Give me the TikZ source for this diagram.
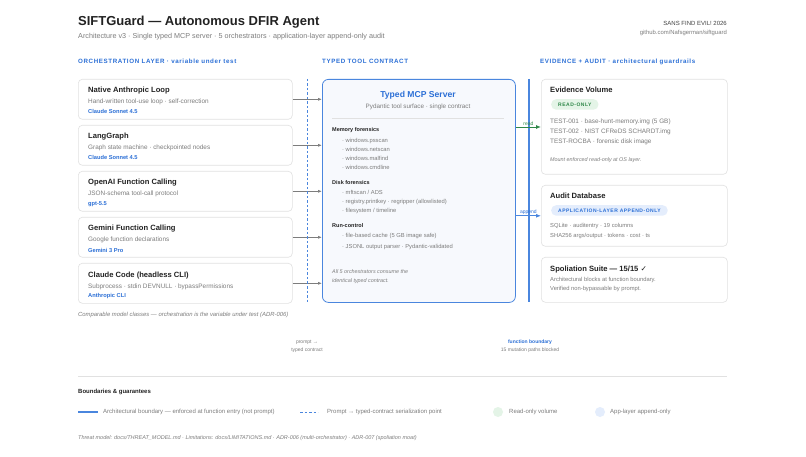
\documentclass[tikz,border=0pt]{standalone}
\usepackage{fontspec}
\setmainfont{Liberation Sans}
\newfontfamily\symfont{DejaVu Sans}
\usetikzlibrary{arrows.meta,positioning,calc}
\definecolor{sgblue}{RGB}{43,111,214}
\definecolor{sgline}{RGB}{74,134,222}
\definecolor{sgink}{RGB}{34,34,34}
\definecolor{sggray}{RGB}{125,125,125}
\definecolor{sgedge}{RGB}{225,225,225}
\definecolor{sggreen}{RGB}{46,135,72}
\definecolor{sggreenbg}{RGB}{228,244,231}
\definecolor{sgbluebg}{RGB}{228,237,252}
\definecolor{sgpanel}{RGB}{247,249,253}

\begin{document}
\begin{tikzpicture}[x=1pt, y=-1pt,
  card/.style={rectangle, draw=sgedge, fill=white, rounded corners=4pt, line width=0.6pt,
               anchor=north west, inner sep=0},
  panel/.style={rectangle, draw=sgline, fill=sgpanel, rounded corners=6pt, line width=0.8pt,
               anchor=north west, inner sep=0},
  ttl/.style={anchor=base west, inner sep=0, text=sgink, font=\fontsize{7.6}{9}\selectfont\bfseries},
  sub/.style={anchor=base west, inner sep=0, text=sggray, font=\fontsize{5.8}{7}\selectfont},
  desc/.style={sub, font=\fontsize{6.4}{8}\selectfont},
  mdl/.style={anchor=base west, inner sep=0, text=sgblue, font=\fontsize{5.7}{7}\selectfont\bfseries},
  grp/.style={anchor=base west, inner sep=0, text=sgink, font=\fontsize{5.5}{7}\selectfont\bfseries},
  note/.style={anchor=base west, inner sep=0, text=sggray, font=\fontsize{5.4}{7}\selectfont\itshape},
  hdr/.style={anchor=base west, inner sep=0, text=sgblue,
              font=\fontsize{6.2}{7}\selectfont\bfseries\addfontfeatures{LetterSpace=10}},
  badge/.style={rectangle, rounded corners=5pt, anchor=north west, minimum height=10.5pt,
                inner xsep=7pt, inner ysep=0, font=\fontsize{5}{6}\selectfont\bfseries\addfontfeatures{LetterSpace=10}},
  tiny/.style={inner sep=0, align=center, text=sggray, font=\fontsize{5}{8}\selectfont},
  arr/.style={-{Latex[length=4pt,width=3pt]}, sggray, line width=0.7pt},
  guard/.style={-{Latex[length=5pt,width=4pt]}, line width=0.9pt}
]
\fill[white] (0,0) rectangle (806,457);
\useasboundingbox (0,0) rectangle (806,457);

% heading
\node[anchor=base west, inner sep=0, text=sgink, font=\fontsize{13}{15}\selectfont\bfseries] (title) at (78,26)
  {SIFTGuard — Autonomous DFIR Agent};
\node[anchor=base west, inner sep=0, text=sggray, font=\fontsize{7.2}{9}\selectfont] (subtitle) at (78,39)
  {Architecture v3 · Single typed MCP server · 5 orchestrators · application-layer append-only audit};
\node[anchor=base east, inner sep=0, text=sgink!85, font=\fontsize{6}{7}\selectfont] (event) at (727,26) {SANS FIND EVIL! 2026};
\node[anchor=base east, inner sep=0, text=sggray, font=\fontsize{5.9}{7}\selectfont] (repo) at (727,35) {github.com/Nafsgerman/siftguard};

\node[hdr] (h1) at (78,64) {ORCHESTRATION LAYER · variable under test};
\node[hdr] (h2) at (322,64) {TYPED TOOL CONTRACT};
\node[hdr] (h3) at (540,64) {EVIDENCE + AUDIT · architectural guardrails};

% typed MCP server
\node[panel, minimum width=193pt, minimum height=223pt] (srv) at (322,79) {};
\node[anchor=base, inner sep=0, text=sgblue, font=\fontsize{8.6}{10}\selectfont\bfseries] (srvt) at (418,98) {Typed MCP Server};
\node[sub, anchor=base, font=\fontsize{6.3}{8}\selectfont] (srvs) at (418,109) {Pydantic tool surface · single contract};
\draw[sgedge, line width=0.6pt] (332,118) -- (504,118);
\node[grp] (mem) at (332,132) {Memory forensics};
\node[sub] at (342,143) {·\ windows.psscan};
\node[sub] at (342,152) {·\ windows.netscan};
\node[sub] at (342,161) {·\ windows.malfind};
\node[sub] at (342,170) {·\ windows.cmdline};
\node[grp] (disk) at (332,185) {Disk forensics};
\node[sub] at (342,195) {·\ mftscan / ADS};
\node[sub] at (342,204) {·\ registry.printkey · regripper (allowlisted)};
\node[sub] at (342,213) {·\ filesystem / timeline};
\node[grp] (run) at (332,228) {Run-control};
\node[sub] at (342,238) {·\ file-based cache (5 GB image safe)};
\node[sub] at (342,248) {·\ JSONL output parser · Pydantic-validated};
\node[note] at (332,273) {All 5 orchestrators consume the};
\node[note] at (332,282) {identical typed contract.};

% orchestrators
\foreach \i/\y/\name/\desc/\model in {
  1/79/Native Anthropic Loop/Hand-written tool-use loop · self-correction/Claude Sonnet 4.5,
  2/125/LangGraph/Graph state machine · checkpointed nodes/Claude Sonnet 4.5,
  3/171/OpenAI Function Calling/JSON-schema tool-call protocol/gpt-5.5,
  4/217/Gemini Function Calling/Google function declarations/Gemini 3 Pro,
  5/263/Claude Code (headless CLI)/Subprocess · stdin DEVNULL · bypassPermissions/Anthropic CLI}{
  \node[card, minimum width=214pt, minimum height=40pt] (o\i) at (78,\y) {};
  \node[ttl] (o\i t) at (88,\y+14) {\name};
  \node[desc] (o\i d) at (88,\y+25) {\desc};
  \node[mdl] (o\i m) at (88,\y+35) {\model};
  \draw[arr] (o\i.east) -- (o\i.east -| srv.west);
}
\node[note, font=\fontsize{5.9}{7}\selectfont\itshape] (cap) at (78,316)
  {Comparable model classes — orchestration is the variable under test (ADR-006)};

% boundaries
\coordinate (ptop) at (307,79);
\coordinate (pbot) at (307,302);
\draw[sgline, line width=0.8pt, dash pattern=on 2.5pt off 2pt] (ptop) -- (pbot);
\coordinate (ftop) at (529,79);
\coordinate (fbot) at (529,302);
\draw[sgline, line width=1.4pt] (ftop) -- (fbot);

% evidence + audit
\node[card, minimum width=186pt, minimum height=95pt] (ev) at (541,79) {};
\node[ttl] (evt) at (550,93) {Evidence Volume};
\node[badge, fill=sggreenbg, text=sggreen] (evb) at (551,99) {READ-ONLY};
\node[desc] at (550,124) {TEST-001 · base-hunt-memory.img (5 GB)};
\node[desc] at (550,134) {TEST-002 · NIST CFReDS SCHARDT.img};
\node[desc] at (550,144) {TEST-ROCBA · forensic disk image};
\node[note] at (550,162) {Mount enforced read-only at OS layer.};

\node[card, minimum width=186pt, minimum height=61pt] (au) at (541,185) {};
\node[ttl] (aut) at (550,199) {Audit Database};
\node[badge, fill=sgbluebg, text=sgblue] (aub) at (551,205) {APPLICATION-LAYER APPEND-ONLY};
\node[sub] at (550,228) {SQLite · auditentry · 19 columns};
\node[sub] at (550,237) {SHA256 args/output · tokens · cost · ts};

\node[card, minimum width=186pt, minimum height=45pt] (sp) at (541,257) {};
\node[ttl] (spt) at (550,271) {Spoliation Suite — 15/15 {\symfont ✓}};
\node[sub] at (550,281) {Architectural blocks at function boundary.};
\node[sub] at (550,290) {Verified non-bypassable by prompt.};

\draw[guard, sggreen] ($(srv.north east)+(0,48)$) -- node[above=0.6pt, inner sep=0, font=\fontsize{5}{6}\selectfont] {read}
  ($(ev.north west)+(0,48)$);
\draw[guard, sgline] (srv.east |- au.west) -- node[above=0.6pt, inner sep=0, text=sgblue, font=\fontsize{5}{6}\selectfont] {append}
  (au.west);

\node[tiny] (plbl) at (307,346) {prompt →\\typed contract};
\node[tiny] (flbl) at (530,346) {\textcolor{sgblue}{\bfseries function boundary}\\15 mutation paths blocked};

% legend
\draw[sgedge, line width=0.6pt] (78,376) -- (727,376);
\node[grp, font=\fontsize{6}{7}\selectfont\bfseries] (lg) at (78,393) {Boundaries \& guarantees};
\coordinate (l1a) at (78,412);
\coordinate (l1b) at (98,412);
\draw[sgline, line width=1.4pt] (l1a) -- (l1b);
\node[sub, anchor=west, font=\fontsize{6}{7}\selectfont] at (103,412) {Architectural boundary — enforced at function entry (not prompt)};
\coordinate (l2a) at (300,412);
\coordinate (l2b) at (318,412);
\draw[sgline, line width=0.9pt, dash pattern=on 2.5pt off 2pt] (l2a) -- (l2b);
\node[sub, anchor=west, font=\fontsize{6}{7}\selectfont] at (327,412) {Prompt → typed-contract serialization point};
\fill[sggreenbg] (498,412) circle (5);
\node[sub, anchor=west, font=\fontsize{6}{7}\selectfont] at (509,412) {Read-only volume};
\fill[sgbluebg] (600,412) circle (5);
\node[sub, anchor=west, font=\fontsize{6}{7}\selectfont] at (610,412) {App-layer append-only};

\node[note, font=\fontsize{5.5}{7}\selectfont\itshape] (foot) at (78,439)
  {Threat model: docs/THREAT\_MODEL.md · Limitations: docs/LIMITATIONS.md · ADR-006 (multi-orchestrator) · ADR-007 (spoliation moat)};
\end{tikzpicture}
\end{document}
